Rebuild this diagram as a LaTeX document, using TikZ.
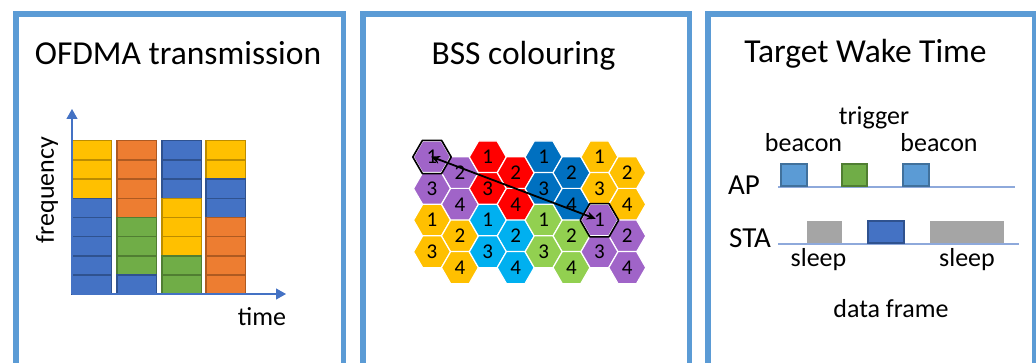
\documentclass[tikz,border=0pt]{standalone}
\usepackage{fontspec}
\setmainfont{Carlito}
\usepackage{xcolor}
\definecolor{frameBlue}{HTML}{5B9BD5}
\definecolor{ofdmaY}{HTML}{FFC000}
\definecolor{ofdmaYline}{HTML}{BC8C00}
\definecolor{ofdmaB}{HTML}{4472C4}
\definecolor{ofdmaBline}{HTML}{2F528F}
\definecolor{ofdmaO}{HTML}{ED7D31}
\definecolor{ofdmaOline}{HTML}{AE5A21}
\definecolor{ofdmaG}{HTML}{70AD47}
\definecolor{ofdmaGline}{HTML}{507E32}
\definecolor{hexPurple}{HTML}{A064C8}
\definecolor{hexYellow}{HTML}{FFC000}
\definecolor{hexRed}{HTML}{FF0000}
\definecolor{hexCyan}{HTML}{00B0F0}
\definecolor{hexBlue}{HTML}{0070C0}
\definecolor{hexLime}{HTML}{92D050}
\definecolor{twtBeacon}{HTML}{5B9BD5}
\definecolor{twtBeaconLine}{HTML}{41719C}
\definecolor{twtSleep}{HTML}{A5A5A5}
\definecolor{twtAxis}{HTML}{8EA9DB}
\usepackage{tikz}
\usetikzlibrary{shapes.geometric,arrows.meta}

\begin{document}
\begin{tikzpicture}[x=1pt, y=-1pt,
  panelframe/.style={draw=frameBlue, line width=5.5pt, line join=miter},
  paneltitle/.style={anchor=base, font=\fontsize{33.5}{40}\selectfont},
  lbl/.style={anchor=base, font=\fontsize{26}{31}\selectfont},
  station/.style={anchor=base, font=\fontsize{29}{34}\selectfont},
  blk/.style={fill=ofdma#1, draw=ofdma#1line, line width=1.5pt},
  axisline/.style={draw=ofdmaB, line width=1.2pt, -{Triangle[length=10pt,width=11pt]}},
  hexcell/.style={regular polygon, regular polygon sides=6, minimum size=37pt,
    inner sep=0pt, draw=white, line width=1.2pt, font=\fontsize{21}{25}\selectfont},
  slot/.style={line width=1.3pt}]
  \useasboundingbox (0,0) rectangle (1036,363);
  % the three panels, open at the bottom
  \draw[panelframe] (16,363) |- (343.5,14) -- (343.5,363);
  \draw[panelframe] (363,363) |- (689.5,14) -- (689.5,363);
  \draw[panelframe] (708,363) |- (1034.5,14) -- (1034.5,363);
  \node[paneltitle] (ofdmatitle) at (178,65) {OFDMA transmission};
  \node[paneltitle] (bsstitle) at (523.5,65) {BSS colouring};
  \node[paneltitle] (twttitle) at (865.5,63) {Target Wake Time};

  % OFDMA: resource units per time slot
  \foreach \x/\cols in {72/{Y,Y,Y,B,B,B,B,B}, 117/{O,O,O,O,G,G,G,B},
                        162/{B,B,B,Y,Y,Y,G,G}, 206/{Y,Y,B,B,O,O,O,O}}
    \foreach \c [count=\r from 0] in \cols
      \draw[blk=\c] (\x,{140.7+\r*19.2}) rectangle ++(39.5,19.2);
  \coordinate (origin) at (72,294);
  \coordinate (freqtip) at (72,109);
  \coordinate (timetip) at (286,294);
  \draw[axisline] (origin) -- (freqtip);
  \draw[axisline] (origin) -- (timetip);
  \node[rotate=90, font=\fontsize{26}{31}\selectfont] (freq) at (47,190) {frequency};
  \node[lbl] (time) at (262,325) {time};

  % BSS colouring: clusters of four cells
  \foreach \c/\r/\col in {0/0/hexPurple, 0/1/hexYellow, 1/0/hexRed, 1/1/hexCyan,
                          2/0/hexBlue, 2/1/hexLime, 3/0/hexYellow, 3/1/hexPurple}
    \foreach \k/\m/\n in {0/0/1, 1/0/2, 0/1/3, 1/1/4}
      \node[hexcell, fill=\col] (hex-\c-\r-\n)
        at ({432+(2*\c+\k)*27.9}, {157+(2*\r+\m)*31.6+\k*15.8}) {\n};
  \foreach \h in {hex-0-0-1, hex-3-1-1}
    \draw[black, line width=1.6pt, line join=round]
      (\h.corner 1) -- (\h.corner 2) -- (\h.corner 3) -- (\h.corner 4)
      -- (\h.corner 5) -- (\h.corner 6) -- cycle;
  \draw[{Stealth[length=9pt,width=8pt]}-{Stealth[length=9pt,width=8pt]}, line width=1.8pt,
    shorten <=-1pt, shorten >=4pt] (hex-0-0-1.center) -- (hex-3-1-1.center);

  % Target Wake Time: AP and STA timelines
  \coordinate (apstart) at (778,187);
  \coordinate (apend) at (1015,187);
  \coordinate (stastart) at (778,244);
  \coordinate (staend) at (1019,244);
  \draw[twtAxis, line width=1.3pt] (apstart) -- (apend);
  \draw[twtAxis, line width=1.3pt] (stastart) -- (staend);
  \draw[slot, fill=twtBeacon, draw=twtBeaconLine] (781,164) rectangle (807,186);
  \draw[slot, fill=ofdmaG, draw=ofdmaGline] (842,164) rectangle (867,186);
  \draw[slot, fill=twtBeacon, draw=twtBeaconLine] (903,164) rectangle (929,186);
  \fill[twtSleep] (807,221) rectangle (842,243);
  \draw[slot, fill=ofdmaB, draw=ofdmaBline] (868,221) rectangle (904,243);
  \fill[twtSleep] (930,221) rectangle (1004,243);
  \node[station] (ap) at (744,195) {AP};
  \node[station] (sta) at (750,248) {STA};
  \node[lbl] (trigger) at (874,125) {trigger};
  \node[lbl] (beaconA) at (803.5,152) {beacon};
  \node[lbl] (beaconB) at (939,152) {beacon};
  \node[lbl] (sleepA) at (818.5,267) {sleep};
  \node[lbl] (sleepB) at (967,267) {sleep};
  \node[lbl] (dataframe) at (891,318) {data frame};
\end{tikzpicture}
\end{document}
